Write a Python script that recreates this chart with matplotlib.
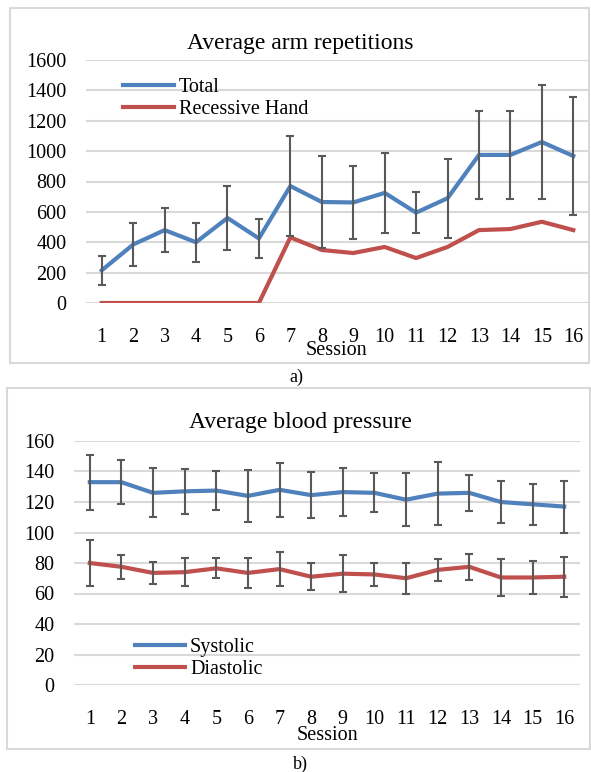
import matplotlib.pyplot as plt
from matplotlib.patches import Rectangle
import numpy as np

plt.rcParams["font.family"] = ["Liberation Serif", "DejaVu Serif"]

sessions = list(range(1, 17))

# a) arm repetitions
total_mean = [215, 385, 480, 400, 560, 425, 770, 665, 662, 725, 595, 690, 975, 975, 1060, 968]
total_err = [95, 140, 145, 130, 208, 128, 328, 305, 240, 262, 135, 260, 290, 290, 375, 390]
recessive_mean = [0, 0, 0, 0, 0, 0, 432, 349, 329, 369, 296, 369, 480, 487, 535, 480]

# b) blood pressure
systolic_mean = [133, 133, 126, 127, 127.5, 124, 128, 124.5, 126.5, 126, 121.5, 125.5, 126, 120, 118.5, 117]
systolic_err = [18, 14.5, 16, 14.7, 12.5, 17, 17.6, 15, 16, 12.7, 17.5, 20.5, 12, 14, 13.3, 17]
diastolic_mean = [80, 77.5, 73.5, 74, 76.5, 73.5, 76, 71, 73, 72.5, 70, 75.5, 77.5, 70.5, 70.5, 71]
diastolic_err = [15, 8, 7, 9, 6.5, 10, 11, 8.8, 12, 7.3, 10, 7, 8.5, 12, 10.5, 13]

BLUE = "#4f81bd"
RED = "#c0504d"
ERR = "#595959"
GRID = "#d9d9d9"
FS = 14.5

W, H = 591, 772
fig = plt.figure(figsize=(W / 100, H / 100), dpi=100)


def px_axes(left, top, right, bottom):
    return fig.add_axes([left / W, 1 - bottom / H, (right - left) / W, (bottom - top) / H])


def frame(left, top, right, bottom):
    fig.patches.append(Rectangle((left / W, 1 - bottom / H), (right - left) / W, (bottom - top) / H,
                                 transform=fig.transFigure, fill=False, edgecolor="#d9d9d9", lw=1.5))


def style_axes(ax, ymax, ystep):
    ax.set_xlim(0.5, 16.5)
    ax.set_ylim(0, ymax)
    ax.set_yticks(np.arange(0, ymax + 1, ystep))
    ax.set_xticks(sessions)
    for s in ax.spines.values():
        s.set_visible(False)
    ax.grid(axis="y", color=GRID, lw=1.5)
    ax.set_axisbelow(True)
    ax.tick_params(length=0, labelsize=FS)
    ax.tick_params(axis="x", pad=18)
    ax.tick_params(axis="y", pad=14)


def add_legend(ax, x, y):
    ax.legend(loc="upper left", bbox_to_anchor=(x, y), frameon=False, fontsize=FS,
              handlelength=2.5, handletextpad=0.25, labelspacing=0.15,
              borderaxespad=0, borderpad=0)


# top panel
frame(10, 8, 589, 363)
ax1 = px_axes(86, 60, 589, 303)
style_axes(ax1, 1600, 200)
ax1.plot(sessions, total_mean, color=BLUE, lw=3, label="Total", zorder=3)
ax1.plot(sessions, recessive_mean, color=RED, lw=3, label="Recessive Hand", zorder=3)
ax1.errorbar(sessions, total_mean, yerr=total_err, fmt="none", ecolor=ERR, elinewidth=1.5,
             capsize=3, capthick=1.5, zorder=4)
add_legend(ax1, 0.074, 0.925)
fig.text(300 / W, 1 - 43 / H, "Average arm repetitions", ha="center", va="center", fontsize=17)
fig.text(336 / W, 1 - 350 / H, "Session", ha="center", va="center", fontsize=FS)
fig.text(296 / W, 1 - 377 / H, "a)", ha="center", va="center", fontsize=13)

# bottom panel
frame(7, 388, 590, 749)
ax2 = px_axes(74, 441, 580, 685)
style_axes(ax2, 160, 20)
ax2.plot(sessions, systolic_mean, color=BLUE, lw=3, label="Systolic", zorder=3)
ax2.plot(sessions, diastolic_mean, color=RED, lw=3, label="Diastolic", zorder=3)
ax2.errorbar(sessions, systolic_mean, yerr=systolic_err, fmt="none", ecolor=ERR, elinewidth=1.5,
             capsize=3, capthick=1.5, zorder=4)
ax2.errorbar(sessions, diastolic_mean, yerr=diastolic_err, fmt="none", ecolor=ERR, elinewidth=1.5,
             capsize=3, capthick=1.5, zorder=4)
add_legend(ax2, 0.12, 0.193)
fig.text(300 / W, 1 - 423 / H, "Average blood pressure", ha="center", va="center", fontsize=17)
fig.text(327 / W, 1 - 736 / H, "Session", ha="center", va="center", fontsize=FS)
fig.text(300 / W, 1 - 764 / H, "b)", ha="center", va="center", fontsize=13)

fig.savefig("out.png", dpi=100)
